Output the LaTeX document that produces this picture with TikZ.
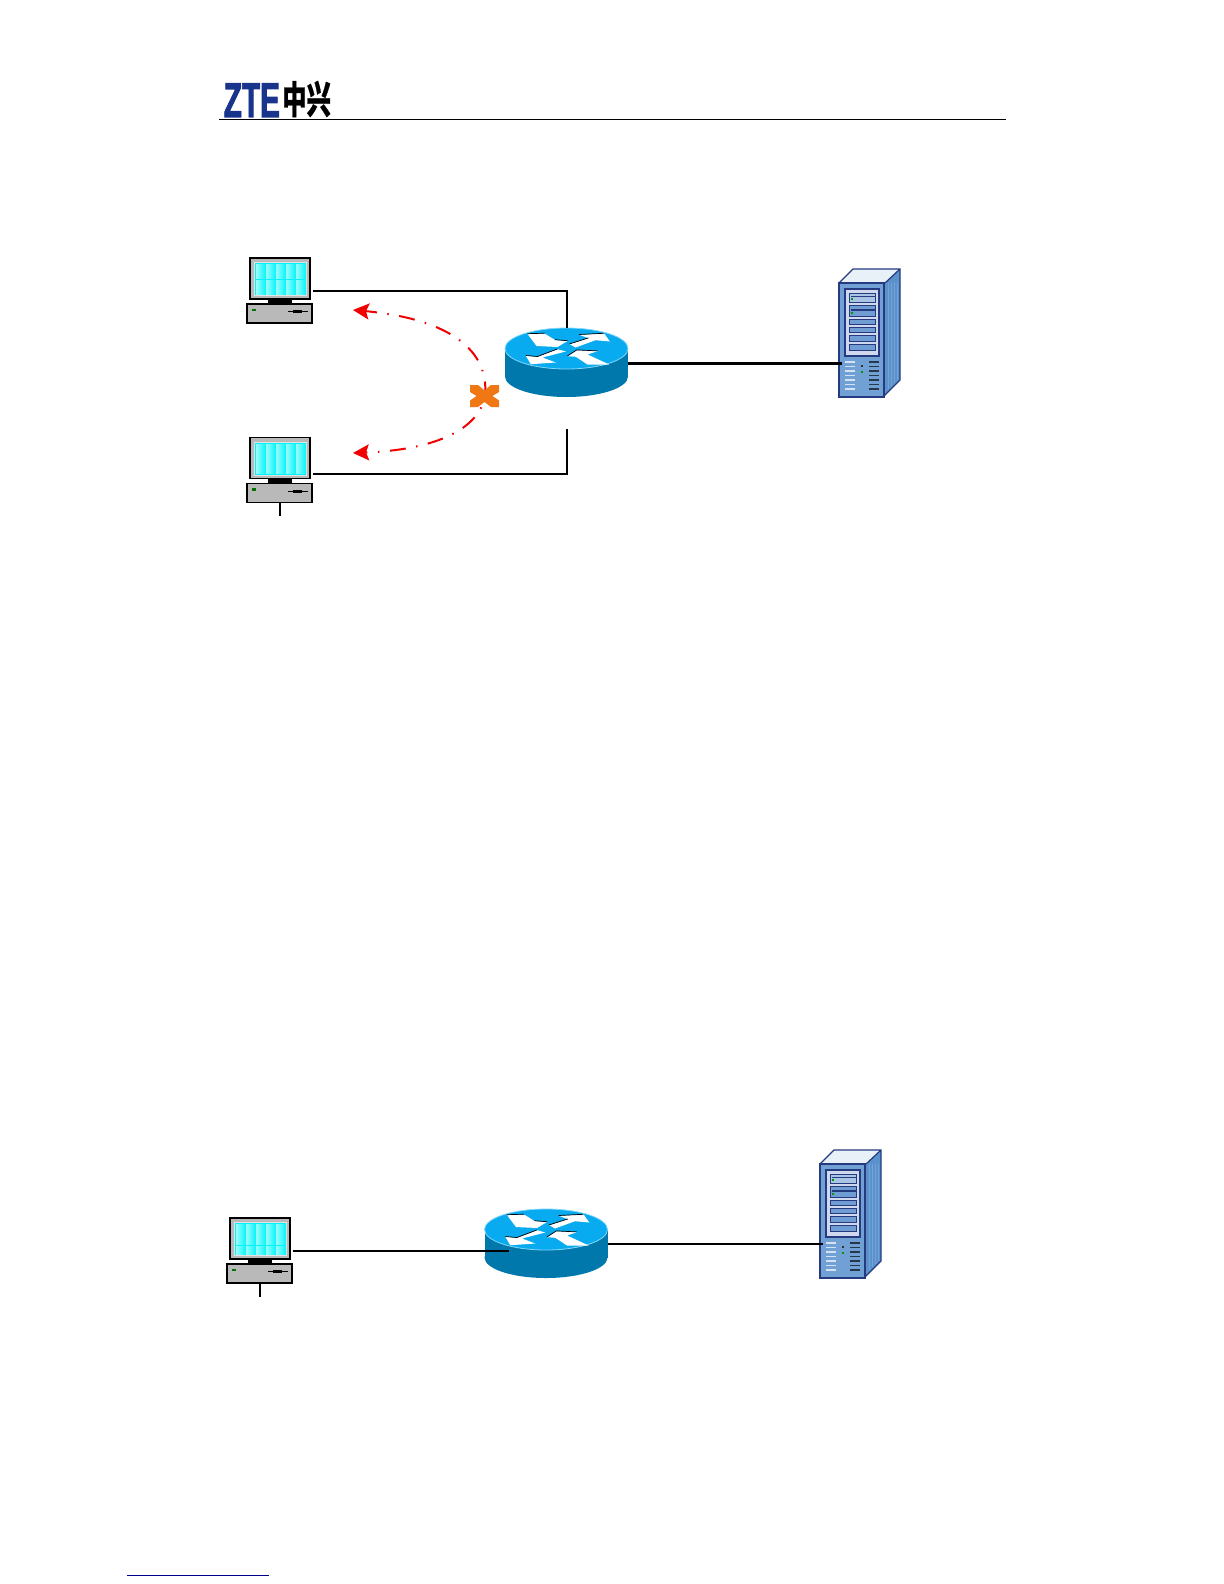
\documentclass[tikz,border=0pt]{standalone}
\usepackage{fontspec}
\newfontfamily\ztefont[BoldFeatures={FakeBold=2.5}]{Liberation Sans}
\newfontfamily\cjkfont[BoldFeatures={FakeBold=0.8}]{Noto Sans CJK SC}
\usetikzlibrary{arrows.meta}
\definecolor{ztblue}{RGB}{24,52,140}
\definecolor{rttop}{RGB}{8,170,240}
\definecolor{rtside}{RGB}{0,120,172}
\definecolor{rtedge}{RGB}{130,215,250}
\definecolor{scrcyan}{RGB}{0,245,250}
\definecolor{scrpale}{RGB}{205,255,255}
\definecolor{pcgray}{RGB}{185,185,185}
\definecolor{svfront}{RGB}{112,160,212}
\definecolor{svside}{RGB}{92,146,204}
\definecolor{svtop}{RGB}{232,240,248}
\definecolor{svnavy}{RGB}{38,58,128}
\definecolor{svslot}{RGB}{112,156,212}
\definecolor{svpanel}{RGB}{208,216,238}
\definecolor{crossor}{RGB}{240,120,20}
\definecolor{linkblue}{RGB}{0,0,140}
\tikzset{
  wire/.style={black, line width=1pt},
  fatwire/.style={black, line width=1.5pt},
  flow/.style={red!95!black, line width=1pt,
    dash pattern=on 8pt off 5.25pt on 0.75pt off 5.25pt,
    -{Stealth[length=8pt,width=8pt,inset=1.5pt]}},
  pics/pcbox/.style={code={
    % monitor, screen cells, neck and base; #1 = row split
    \fill[black] (18,41) rectangle (42,46);
    \draw[black, line width=0.8pt, fill=pcgray] (0,0) rectangle (60,41);
    \fill[white!60!pcgray] (4,4) rectangle (57,38);
    \fill[scrcyan] (5,5) rectangle (56,37);
    \foreach \c in {0,...,4} {
      \shade[left color=scrpale!75!scrcyan, middle color=scrpale, right color=scrcyan] (6+10*\c,6.5) rectangle (16+10*\c,#1-0.5);
      \shade[left color=scrpale!75!scrcyan, middle color=scrpale, right color=scrcyan] (6+10*\c,#1+1) rectangle (16+10*\c,36);
    }
    \draw[black, line width=0.8pt, fill=pcgray] (-3,46) rectangle (62,65);
    \fill[black!55!green] (2,50.5) rectangle (6,53);
    \fill[black] (38,53) rectangle (58,54);
    \fill[black] (43,52) rectangle (52,55);
    \coordinate (-port) at (62.5,33);
    \coordinate (-foot) at (30,65);
  }},
  pics/routerbox/.style={code={
    \fill[rtside] (0,28) ellipse [x radius=61.5, y radius=20.5];
    \fill[rtside] (-61.5,0) rectangle (61.5,28);
    \draw[rtedge, line width=0.4pt, fill=rttop] (0,0) ellipse [x radius=61.5, y radius=20.5];
    % four arrows
    \fill[white] (-39,-14.5) -- (-22,-15) -- (-11.5,-8.5) -- (1,-7.5) -- (-9,-1.5) -- (-30,-2.5) -- cycle;
    \fill[white] (12.7,-13.7) -- (37.7,-15) -- (43.3,-7) -- (29,-8.3) -- (9,-1) -- (3.3,-4.3) -- (22,-10.3) -- cycle;
    \fill[white] (-40.7,7.3) -- (-35.7,15.7) -- (-10.7,14) -- (-24,9) -- (-0.7,3) -- (-9,0.7) -- (-29,8.3) -- cycle;
    \fill[white] (1,7.7) -- (10.3,1.7) -- (31,2.7) -- (21,6) -- (42.7,16) -- (21,16) -- (9.3,8.3) -- cycle;
    \draw[black, line width=0.35pt] (-39,-14.8) -- (-22,-15.3) (-11.5,-8.8) -- (1,-7.8);
    \draw[black, line width=0.35pt] (3,-4.6) -- (22,-10.6) (12.7,-14) -- (37,-15.2);
    \draw[black, line width=0.35pt] (-40.7,7) -- (-29,8) (-29,8) -- (-9,0.4);
    \draw[black, line width=0.35pt] (1,7.4) -- (10.3,1.4) -- (31,2.4);
    \coordinate (-top) at (0,-20.5);
    \coordinate (-east) at (61.5,14.5);
    \coordinate (-hub) at (-37,21.5);
  }},
  pics/serverbox/.style={code={
    \fill[svtop] (0,0) -- (14,-14) -- (61,-14) -- (46,0) -- cycle;
    \fill[svside] (46,0) -- (61,-14) -- (61,97) -- (44,114) -- cycle;
    \foreach \s in {49,52,...,58} {
      \draw[white!15!svside, line width=0.5pt] (\s,0) -- (\s,{155-\s});
    }
    \draw[svnavy, line width=0.6pt] (0,0) -- (14,-14) -- (61,-14) -- (61,97) -- (44,114) (46,0) -- (61,-14);
    \draw[svnavy, line width=0.8pt, fill=svfront] (0,0) rectangle (45,114);
    \draw[svnavy, line width=0.8pt, fill=svpanel] (6,6) rectangle (40,73);
    % drive bays
    \draw[svnavy, line width=0.5pt, fill=svslot!60] (10.7,10) rectangle (36.7,19.3);
    \draw[svnavy, line width=0.5pt, fill=svslot] (10.7,22) rectangle (36.7,33.3);
    \foreach \a/\b in {36/41,44/49.3,52.7/58,61.7/67.7} {
      \draw[svnavy, line width=0.5pt, fill=svslot] (10.7,\a) rectangle (36.7,\b);
    }
    \fill[svnavy] (12,12.5) rectangle (36,13.5);
    \fill[svnavy] (12,25.5) rectangle (36,28);
    \fill[green!60!black] (12,15) rectangle (14,17);
    \fill[green!60!black] (12,29) rectangle (14,31);
    % vents
    \foreach \r in {0,...,6} {
      \fill[white!70!svfront] (6,78+4.5*\r) rectangle (16,79.5+4.5*\r);
      \fill[black!65!svfront] (29.5,78+4.5*\r) rectangle (40,79.5+4.5*\r);
    }
    \fill[black!80] (21.5,81.5) rectangle (23.5,84);
    \fill[green!60!black] (21.5,87.5) rectangle (23.5,90);
    \coordinate (-port) at (3,80);
  }}
}
\begin{document}
\begin{tikzpicture}[x=0.5pt, y=-0.5pt]
\useasboundingbox (0,0) rectangle (1224,1584);

% ---- Header ----
\node[font=\ztefont\bfseries\fontsize{24.4}{24.4}\selectfont, text=ztblue, inner sep=0pt, xscale=0.61, anchor=base west] (logoZTE) at (223.5,117) {ZTE};
\node[font=\cjkfont\bfseries\fontsize{19}{19}\selectfont, text=black, inner sep=0pt, xscale=0.64, anchor=base west] (logoCN) at (282,113.5) {中兴};
\coordinate (ruleL) at (219,119.5);
\coordinate (ruleR) at (1006,119.5);
\draw[black, line width=0.5pt] (ruleL) -- (ruleR);

% ---- Upper network ----
\pic (pcA) at (250,258) {pcbox=21};
\pic (pcB) at (250,437.5) {pcbox=21};
\pic (routerA) at (566.5,348.5) {routerbox};
\pic (serverA) at (839,283) {serverbox};

\coordinate (tapB) at (312.5,474);
\coordinate (stubB) at (566.5,429);
\coordinate (tailB) at (280,516);

\draw[wire] (pcA-port) -| (routerA-top);
\draw[wire] (tapB) -| (stubB);
\draw[fatwire] (routerA-east) -- (serverA-port);
\draw[wire] (pcB-foot) -- (tailB);

% red flows out of the blocked point
\coordinate (xmark) at (485,396);
\coordinate (flowA) at (353,310);
\coordinate (flowB) at (353,453);
\draw[flow, dash phase=0.75pt] (xmark) .. controls (490,345) and (440,318) .. (flowA);
\draw[flow, dash phase=7.25pt] (xmark) .. controls (478,432) and (430,450) .. (flowB);

% orange cross
\fill[crossor] (470,385) -- (478,385) -- (484.5,390.5) -- (491,385) -- (499,385) -- (499,392) -- (492.5,396) -- (499,400.5) -- (499,407) -- (491,407) -- (484.5,402) -- (478,407) -- (470,407) -- (470,400.5) -- (476.5,396) -- (470,392) -- cycle;

% ---- Lower network ----
\pic (pcC) at (230,1218) {pcbox=27};
\pic (routerB) at (546,1229.5) {routerbox};
\pic (serverB) at (820,1164) {serverbox};

\coordinate (tailC) at (260,1297);

\draw[wire] (pcC-port) -- (routerB-hub);
\draw[wire] (routerB-east) -- (serverB-port);
\draw[wire] (pcC-foot) -- (tailC);

% ---- Footer link rule ----
\coordinate (linkL) at (127,1575);
\coordinate (linkR) at (269,1575);
\draw[linkblue, line width=0.5pt] (linkL) -- (linkR);

\end{tikzpicture}
\end{document}
